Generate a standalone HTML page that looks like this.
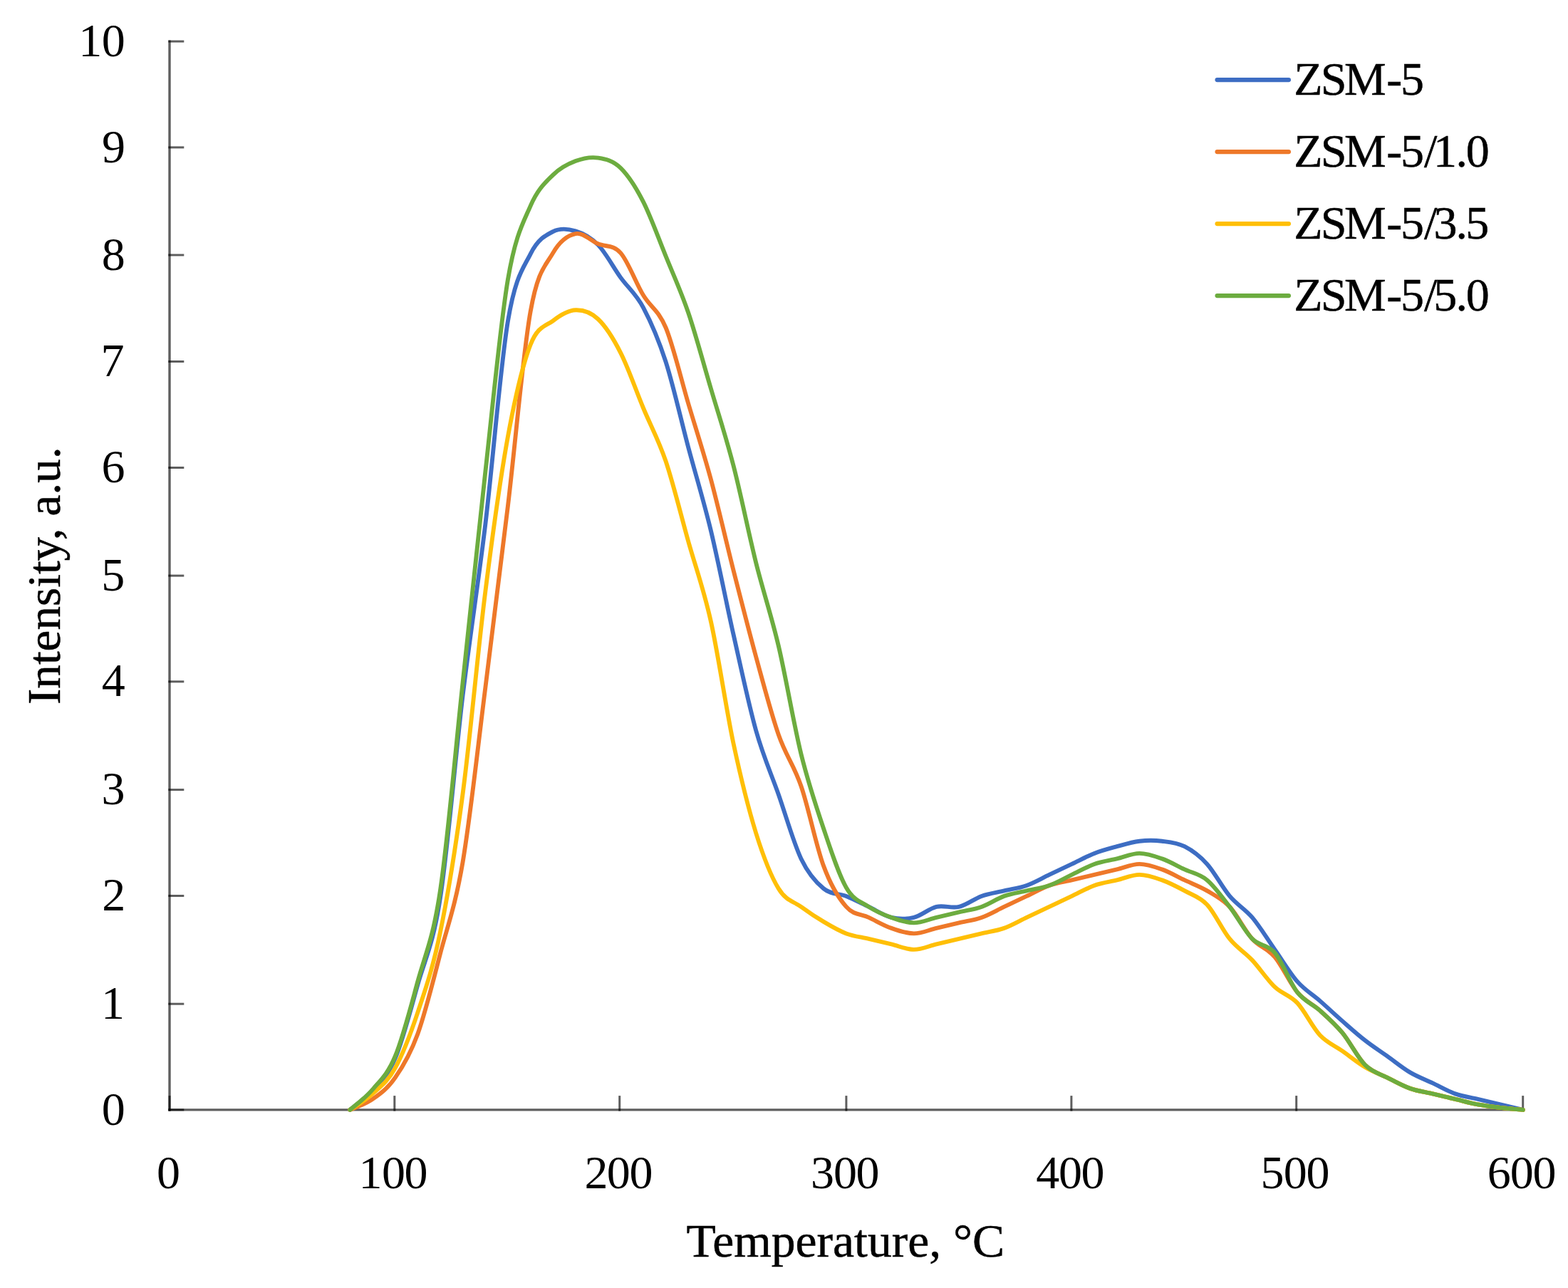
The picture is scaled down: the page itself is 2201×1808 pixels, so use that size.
<!DOCTYPE html>
<html lang="en">
<head>
<meta charset="utf-8">
<title>NH3-TPD profiles</title>
<style>
html,body{margin:0;padding:0;background:#fff;}
body{width:2201px;height:1808px;overflow:hidden;}
svg{display:block;}
text{font-family:"Liberation Serif", "DejaVu Serif", serif;font-size:66px;fill:#000;}
.t{stroke:#000;stroke-width:0.5;}
.ax{stroke:#000;stroke-opacity:0.63;stroke-width:3.4;fill:none;}
.tk{stroke:#000;stroke-opacity:0.63;stroke-width:3;fill:none;}
.s{fill:none;stroke-width:5.9;stroke-linecap:round;stroke-linejoin:round;}
</style>
</head>
<body>
<svg xmlns="http://www.w3.org/2000/svg" width="2201" height="1808" viewBox="0 0 2201 1808">
<rect width="2201" height="1808" fill="#fff"/>
<g class="ax">
<line x1="238.0" y1="56.6" x2="238.0" y2="1559.6"/>
<line x1="236.3" y1="1557.9" x2="2139.2" y2="1557.9"/>
</g>
<g class="tk">
<line x1="236.3" y1="1557.9" x2="258.3" y2="1557.9"/>
<line x1="236.3" y1="1409.2" x2="258.3" y2="1409.2"/>
<line x1="236.3" y1="1257.5" x2="258.3" y2="1257.5"/>
<line x1="236.3" y1="1108.6" x2="258.3" y2="1108.6"/>
<line x1="236.3" y1="956.8" x2="258.3" y2="956.8"/>
<line x1="236.3" y1="808.1" x2="258.3" y2="808.1"/>
<line x1="236.3" y1="656.5" x2="258.3" y2="656.5"/>
<line x1="236.3" y1="507.5" x2="258.3" y2="507.5"/>
<line x1="236.3" y1="358.0" x2="258.3" y2="358.0"/>
<line x1="236.3" y1="206.9" x2="258.3" y2="206.9"/>
<line x1="236.3" y1="58.1" x2="258.3" y2="58.1"/>
<line x1="238.0" y1="1559.6" x2="238.0" y2="1538.1"/>
<line x1="553.8" y1="1559.6" x2="553.8" y2="1538.1"/>
<line x1="869.7" y1="1559.6" x2="869.7" y2="1538.1"/>
<line x1="1187.9" y1="1559.6" x2="1187.9" y2="1538.1"/>
<line x1="1503.9" y1="1559.6" x2="1503.9" y2="1538.1"/>
<line x1="1819.7" y1="1559.6" x2="1819.7" y2="1538.1"/>
<line x1="2137.7" y1="1559.6" x2="2137.7" y2="1538.1"/>
</g>
<path class="s" stroke="#3D6DC3" d="M491.3,1557.9C496.6,1553.4 512.4,1542.9 523.0,1530.9C533.5,1518.9 544.1,1510.7 554.6,1485.9C565.2,1461.2 575.7,1419.9 586.3,1382.4C596.8,1344.9 607.4,1328.7 617.9,1260.9C628.5,1193.2 639.0,1063.5 649.6,976.0C660.2,888.5 670.7,823.5 681.3,736.0C691.8,648.5 702.4,514.3 712.9,451.0C723.5,387.8 734.0,377.6 744.6,356.6C755.1,335.6 765.7,330.4 776.2,325.1C786.8,319.7 797.4,321.2 807.9,324.3C818.5,327.4 829.0,332.9 839.6,343.8C850.1,354.7 860.7,374.9 871.2,389.6C881.8,404.2 892.3,411.8 902.9,431.6C913.4,451.3 924.0,475.3 934.6,508.0C945.1,540.8 955.7,588.5 966.2,628.0C976.8,667.5 987.3,701.3 997.9,745.0C1008.4,788.8 1019.0,843.7 1029.5,890.5C1040.1,937.2 1050.7,988.0 1061.2,1025.5C1071.8,1063.0 1082.3,1085.5 1092.9,1115.5C1103.4,1145.5 1114.0,1183.4 1124.5,1205.4C1135.1,1227.4 1145.6,1238.7 1156.2,1247.4C1166.7,1256.2 1177.3,1253.7 1187.9,1257.9C1198.4,1262.2 1209.0,1267.9 1219.5,1272.9C1230.1,1277.9 1240.6,1285.4 1251.2,1287.9C1261.7,1290.4 1272.3,1290.4 1282.8,1287.9C1293.4,1285.4 1303.9,1275.4 1314.5,1272.9C1325.1,1270.4 1335.6,1275.4 1346.2,1272.9C1356.7,1270.4 1367.3,1261.7 1377.8,1257.9C1388.4,1254.2 1398.9,1252.9 1409.5,1250.4C1420.0,1247.9 1430.6,1246.7 1441.1,1242.9C1451.7,1239.2 1462.3,1232.9 1472.8,1227.9C1483.4,1222.9 1493.9,1217.9 1504.5,1212.9C1515.0,1207.9 1525.6,1202.1 1536.1,1197.9C1546.7,1193.8 1557.2,1191.1 1567.8,1188.2C1578.3,1185.3 1588.9,1182.0 1599.5,1180.7C1610.0,1179.5 1620.6,1179.5 1631.1,1180.7C1641.7,1182.0 1652.2,1182.8 1662.8,1188.2C1673.3,1193.6 1683.9,1201.3 1694.4,1212.9C1705.0,1224.6 1715.5,1245.4 1726.1,1257.9C1736.7,1270.4 1747.2,1275.4 1757.8,1287.9C1768.3,1300.4 1778.9,1317.9 1789.4,1332.9C1800.0,1347.9 1810.5,1365.9 1821.1,1377.9C1831.6,1389.9 1842.2,1395.7 1852.7,1404.9C1863.3,1414.2 1873.9,1424.2 1884.4,1433.4C1895.0,1442.7 1905.5,1452.2 1916.1,1460.4C1926.6,1468.7 1937.2,1475.4 1947.7,1482.9C1958.3,1490.4 1968.8,1499.2 1979.4,1505.4C1989.9,1511.7 2000.5,1515.4 2011.1,1520.4C2021.6,1525.4 2032.2,1531.7 2042.7,1535.4C2053.3,1539.2 2063.8,1540.4 2074.4,1542.9C2084.9,1545.4 2095.5,1547.9 2106.0,1550.4C2116.6,1552.9 2132.4,1556.7 2137.7,1557.9"/>
<path class="s" stroke="#EE7829" d="M491.3,1557.9C496.6,1555.4 512.4,1550.4 523.0,1542.9C533.5,1535.4 544.1,1528.2 554.6,1512.9C565.2,1497.7 575.7,1480.4 586.3,1451.4C596.8,1422.4 607.4,1379.2 617.9,1338.9C628.5,1298.7 639.0,1272.2 649.6,1209.9C660.2,1147.7 670.7,1048.7 681.3,965.5C691.8,882.2 702.4,798.5 712.9,710.5C723.5,622.5 734.0,496.8 744.6,437.5C755.1,378.3 765.7,373.3 776.2,355.1C786.8,336.8 797.4,330.2 807.9,328.1C818.5,325.9 829.0,337.8 839.6,342.3C850.1,346.8 860.7,343.1 871.2,355.1C881.8,367.1 892.3,396.8 902.9,414.3C913.4,431.8 924.0,434.7 934.6,460.0C945.1,485.4 955.7,531.0 966.2,566.5C976.8,602.0 987.3,634.0 997.9,673.0C1008.4,712.0 1019.0,759.0 1029.5,800.5C1040.1,842.0 1050.7,883.5 1061.2,922.0C1071.8,960.5 1082.3,1001.2 1092.9,1031.5C1103.4,1061.7 1114.0,1072.7 1124.5,1103.5C1135.1,1134.2 1145.6,1187.7 1156.2,1215.9C1166.7,1244.2 1177.3,1260.9 1187.9,1272.9C1198.4,1284.9 1209.0,1282.9 1219.5,1287.9C1230.1,1292.9 1240.6,1299.2 1251.2,1302.9C1261.7,1306.7 1272.3,1310.4 1282.8,1310.4C1293.4,1310.4 1303.9,1305.4 1314.5,1302.9C1325.1,1300.4 1335.6,1297.9 1346.2,1295.4C1356.7,1292.9 1367.3,1291.7 1377.8,1287.9C1388.4,1284.2 1398.9,1277.9 1409.5,1272.9C1420.0,1267.9 1430.6,1262.9 1441.1,1257.9C1451.7,1252.9 1462.3,1246.7 1472.8,1242.9C1483.4,1239.2 1493.9,1237.9 1504.5,1235.4C1515.0,1232.9 1525.6,1230.4 1536.1,1227.9C1546.7,1225.4 1557.2,1222.9 1567.8,1220.4C1578.3,1217.9 1588.9,1212.9 1599.5,1212.9C1610.0,1212.9 1620.6,1216.7 1631.1,1220.4C1641.7,1224.2 1652.2,1230.4 1662.8,1235.4C1673.3,1240.4 1683.9,1244.2 1694.4,1250.4C1705.0,1256.7 1715.5,1261.7 1726.1,1272.9C1736.7,1284.2 1747.2,1306.2 1757.8,1317.9C1768.3,1329.7 1778.9,1330.9 1789.4,1343.4C1800.0,1355.9 1810.5,1380.4 1821.1,1392.9C1831.6,1405.4 1842.2,1408.9 1852.7,1418.4C1863.3,1427.9 1873.9,1437.2 1884.4,1449.9C1895.0,1462.7 1905.5,1484.4 1916.1,1494.9C1926.6,1505.4 1937.2,1507.4 1947.7,1512.9C1958.3,1518.4 1968.8,1524.2 1979.4,1527.9C1989.9,1531.7 2000.5,1532.9 2011.1,1535.4C2021.6,1537.9 2032.2,1540.4 2042.7,1542.9C2053.3,1545.4 2063.8,1548.4 2074.4,1550.4C2084.9,1552.4 2095.5,1553.7 2106.0,1554.9C2116.6,1556.2 2132.4,1557.4 2137.7,1557.9"/>
<path class="s" stroke="#FFBF06" d="M491.3,1557.9C496.6,1554.2 512.4,1545.2 523.0,1535.4C533.5,1525.7 544.1,1518.4 554.6,1499.4C565.2,1480.4 575.7,1453.2 586.3,1421.4C596.8,1389.7 607.4,1360.2 617.9,1308.9C628.5,1257.7 639.0,1193.7 649.6,1114.0C660.2,1034.2 670.7,914.0 681.3,830.5C691.8,747.0 702.4,670.8 712.9,613.0C723.5,555.3 734.0,511.2 744.6,484.0C755.1,456.9 765.7,458.4 776.2,450.3C786.8,442.2 797.4,435.7 807.9,435.3C818.5,434.9 829.0,438.0 839.6,448.0C850.1,458.0 860.7,474.5 871.2,495.3C881.8,516.0 892.3,547.2 902.9,572.5C913.4,597.9 924.0,616.3 934.6,647.5C945.1,678.8 955.7,722.5 966.2,760.0C976.8,797.5 987.3,825.2 997.9,872.5C1008.4,919.7 1019.0,994.0 1029.5,1043.5C1040.1,1093.0 1050.7,1135.5 1061.2,1169.5C1071.8,1203.4 1082.3,1230.2 1092.9,1247.4C1103.4,1264.7 1114.0,1265.2 1124.5,1272.9C1135.1,1280.7 1145.6,1287.7 1156.2,1293.9C1166.7,1300.2 1177.3,1306.4 1187.9,1310.4C1198.4,1314.4 1209.0,1315.4 1219.5,1317.9C1230.1,1320.4 1240.6,1322.9 1251.2,1325.4C1261.7,1327.9 1272.3,1332.9 1282.8,1332.9C1293.4,1332.9 1303.9,1327.9 1314.5,1325.4C1325.1,1322.9 1335.6,1320.4 1346.2,1317.9C1356.7,1315.4 1367.3,1312.9 1377.8,1310.4C1388.4,1307.9 1398.9,1306.7 1409.5,1302.9C1420.0,1299.2 1430.6,1292.9 1441.1,1287.9C1451.7,1282.9 1462.3,1277.9 1472.8,1272.9C1483.4,1267.9 1493.9,1262.9 1504.5,1257.9C1515.0,1252.9 1525.6,1246.7 1536.1,1242.9C1546.7,1239.2 1557.2,1237.9 1567.8,1235.4C1578.3,1232.9 1588.9,1227.9 1599.5,1227.9C1610.0,1227.9 1620.6,1231.7 1631.1,1235.4C1641.7,1239.2 1652.2,1244.7 1662.8,1250.4C1673.3,1256.2 1683.9,1258.7 1694.4,1269.9C1705.0,1281.2 1715.5,1304.9 1726.1,1317.9C1736.7,1330.9 1747.2,1336.7 1757.8,1347.9C1768.3,1359.2 1778.9,1375.4 1789.4,1385.4C1800.0,1395.4 1810.5,1396.7 1821.1,1407.9C1831.6,1419.2 1842.2,1441.7 1852.7,1452.9C1863.3,1464.2 1873.9,1467.9 1884.4,1475.4C1895.0,1482.9 1905.5,1491.7 1916.1,1497.9C1926.6,1504.2 1937.2,1507.9 1947.7,1512.9C1958.3,1517.9 1968.8,1524.2 1979.4,1527.9C1989.9,1531.7 2000.5,1532.9 2011.1,1535.4C2021.6,1537.9 2032.2,1540.4 2042.7,1542.9C2053.3,1545.4 2063.8,1548.4 2074.4,1550.4C2084.9,1552.4 2095.5,1553.7 2106.0,1554.9C2116.6,1556.2 2132.4,1557.4 2137.7,1557.9"/>
<path class="s" stroke="#6CAC3F" d="M491.3,1557.9C496.6,1553.2 512.4,1541.9 523.0,1529.4C533.5,1516.9 544.1,1508.2 554.6,1482.9C565.2,1457.7 575.7,1416.7 586.3,1377.9C596.8,1339.2 607.4,1320.4 617.9,1250.4C628.5,1180.5 639.0,1056.0 649.6,958.0C660.2,860.0 670.7,756.8 681.3,662.5C691.8,568.3 702.4,454.8 712.9,392.6C723.5,330.3 734.0,313.6 744.6,289.1C755.1,264.6 765.7,256.1 776.2,245.6C786.8,235.1 797.4,230.1 807.9,226.1C818.5,222.1 829.0,220.0 839.6,221.6C850.1,223.2 860.7,225.6 871.2,235.8C881.8,246.1 892.3,262.4 902.9,283.1C913.4,303.7 924.0,333.6 934.6,359.6C945.1,385.6 955.7,408.1 966.2,439.0C976.8,470.0 987.3,509.8 997.9,545.5C1008.4,581.3 1019.0,612.8 1029.5,653.5C1040.1,694.3 1050.7,747.8 1061.2,790.0C1071.8,832.2 1082.3,862.2 1092.9,907.0C1103.4,951.7 1114.0,1015.7 1124.5,1058.5C1135.1,1101.2 1145.6,1132.2 1156.2,1163.5C1166.7,1194.7 1177.3,1227.7 1187.9,1245.9C1198.4,1264.2 1209.0,1265.9 1219.5,1272.9C1230.1,1279.9 1240.6,1284.2 1251.2,1287.9C1261.7,1291.7 1272.3,1295.4 1282.8,1295.4C1293.4,1295.4 1303.9,1290.4 1314.5,1287.9C1325.1,1285.4 1335.6,1282.9 1346.2,1280.4C1356.7,1277.9 1367.3,1276.7 1377.8,1272.9C1388.4,1269.2 1398.9,1261.7 1409.5,1257.9C1420.0,1254.2 1430.6,1252.9 1441.1,1250.4C1451.7,1247.9 1462.3,1246.7 1472.8,1242.9C1483.4,1239.2 1493.9,1232.9 1504.5,1227.9C1515.0,1222.9 1525.6,1216.7 1536.1,1212.9C1546.7,1209.2 1557.2,1207.9 1567.8,1205.4C1578.3,1202.9 1588.9,1197.9 1599.5,1197.9C1610.0,1197.9 1620.6,1201.7 1631.1,1205.4C1641.7,1209.2 1652.2,1215.4 1662.8,1220.4C1673.3,1225.4 1683.9,1226.7 1694.4,1235.4C1705.0,1244.2 1715.5,1259.2 1726.1,1272.9C1736.7,1286.7 1747.2,1307.2 1757.8,1317.9C1768.3,1328.7 1778.9,1324.9 1789.4,1337.4C1800.0,1349.9 1810.5,1379.4 1821.1,1392.9C1831.6,1406.4 1842.2,1408.9 1852.7,1418.4C1863.3,1427.9 1873.9,1437.2 1884.4,1449.9C1895.0,1462.7 1905.5,1484.4 1916.1,1494.9C1926.6,1505.4 1937.2,1507.4 1947.7,1512.9C1958.3,1518.4 1968.8,1524.2 1979.4,1527.9C1989.9,1531.7 2000.5,1532.9 2011.1,1535.4C2021.6,1537.9 2032.2,1540.4 2042.7,1542.9C2053.3,1545.4 2063.8,1548.4 2074.4,1550.4C2084.9,1552.4 2095.5,1553.7 2106.0,1554.9C2116.6,1556.2 2132.4,1557.4 2137.7,1557.9"/>
<text x="142.8" y="1578.5">0</text>
<text x="141.9" y="1429.8">1</text>
<text x="143.2" y="1278.1">2</text>
<text x="142.5" y="1129.2">3</text>
<text x="142.7" y="977.4">4</text>
<text x="142.2" y="828.7">5</text>
<text x="142.4" y="677.1">6</text>
<text x="141.6" y="528.1">7</text>
<text x="142.8" y="378.6">8</text>
<text x="143.1" y="227.5">9</text>
<text x="110.3 142.8" y="78.7">10</text>
<text x="220.1" y="1667.6">0</text>
<text x="503.4 535.9 567.5" y="1667.6">100</text>
<text x="820.6 851.8 883.4" y="1667.6">200</text>
<text x="1138.1 1170.0 1201.6" y="1667.6">300</text>
<text x="1454.3 1486.0 1517.6" y="1667.6">400</text>
<text x="1769.6 1801.8 1833.4" y="1667.6">500</text>
<text x="2087.8 2119.8 2151.4" y="1667.6">600</text>
<text class="t" x="1186.9" y="1763.8" text-anchor="middle" textLength="446.6" lengthAdjust="spacingAndGlyphs">Temperature, °C</text>
<text class="t" transform="translate(84.3,808.3) rotate(-90)" text-anchor="middle" textLength="361.6" lengthAdjust="spacingAndGlyphs">Intensity, a.u.</text>
<line x1="1708.6" y1="112.1" x2="1808.9" y2="112.1" stroke="#3D6DC3" stroke-width="6.3" stroke-linecap="round"/>
<text class="t" x="1816.2 1853.7 1886.9 1946.3 1965.9" y="133.1">ZSM-5</text>
<line x1="1708.6" y1="213.1" x2="1808.9" y2="213.1" stroke="#EE7829" stroke-width="6.3" stroke-linecap="round"/>
<text class="t" x="1816.2 1853.7 1886.9 1946.3 1965.9 1999.1 2012.0 2043.6 2057.8" y="234.1">ZSM-5/1.0</text>
<line x1="1708.6" y1="314.1" x2="1808.9" y2="314.1" stroke="#FFBF06" stroke-width="6.3" stroke-linecap="round"/>
<text class="t" x="1816.2 1853.7 1886.9 1946.3 1965.9 1999.1 2012.6 2043.6 2057.2" y="335.1">ZSM-5/3.5</text>
<line x1="1708.6" y1="415.1" x2="1808.9" y2="415.1" stroke="#6CAC3F" stroke-width="6.3" stroke-linecap="round"/>
<text class="t" x="1816.2 1853.7 1886.9 1946.3 1965.9 1999.1 2012.3 2043.6 2057.8" y="436.1">ZSM-5/5.0</text>
</svg>
</body>
</html>
